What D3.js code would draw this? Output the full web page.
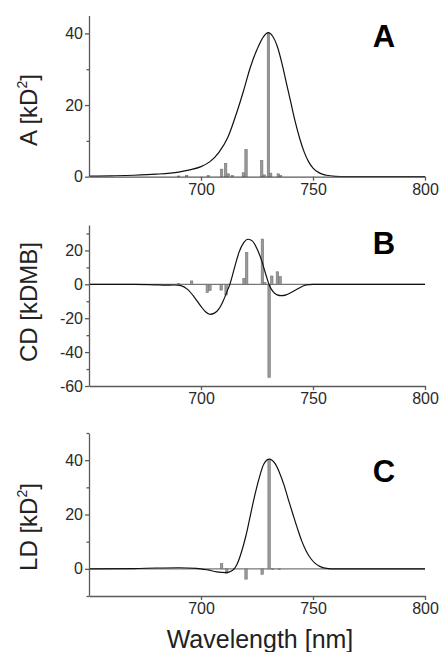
<!DOCTYPE html>
<html><head><meta charset="utf-8">
<script src="https://cdn.jsdelivr.net/npm/d3@7"></script>
<style>
html,body{margin:0;padding:0;background:#fff;}
svg{display:block;font-family:"Liberation Sans",Arial,sans-serif;}
</style></head>
<body><svg id="c" width="442" height="652"></svg>
<script>
// ---- data ----
const xTicks = [700, 750, 800];

const absWl  = [650,660,670,680,690,695,700,704,708,712,716,719,722,725,728,730,732,734,736,738,740,742,744,746,748,750,753,756,760,765,800];
const absVal = [0.15,0.25,0.4,0.7,1.3,1.9,2.8,4.2,6.8,11,18,24,30.5,35.5,39.2,40.2,39.2,36.5,32,26.5,21,15.5,10.8,7,4.2,2.4,1.0,0.4,0.1,0,0];
const absStickWl  = [690,693.6,703.3,709.2,711,712.2,714,718.9,720.1,727.1,728.3,730.1,731.1,734.5,735.5];
const absStickVal = [0.2,0.3,0.3,2.1,3.7,0.8,0.3,1.1,7.6,4.5,0.5,40,1.0,0.8,0.3];

const cdWl  = [650,670,680,684,688,691,694,697,700,702,704,706,708,710,712,713,715,717,719,721,723,725,727,729,730.5,732,734,736,738,740,743,747,750,760,800];
const cdVal = [0,0,-0.3,-0.5,-0.4,-0.8,-3,-7.5,-13,-16.2,-17.7,-17,-14.5,-9.5,-3,0.5,10,19,24.5,26.6,25.5,21,14.3,5.5,-0.5,-4,-6.2,-6.7,-6.2,-5,-2.8,-0.3,0,0,0];
const cdStickWl  = [690,695.8,702.8,704,709,711.2,719.2,720.4,727.4,728.5,730.4,731.6,734.1,735.3];
const cdStickVal = [0.5,2,-4.9,-3.6,-3.4,-6.3,3.5,18.7,26.7,1,-54.9,4.9,7.4,4.5];

const ldWl  = [650,670,680,690,698,703,707,711,714,716,718,720,722,724,726,728,730.5,733,735,737,739,741,743,745,747,749,751,753,756,760,800];
const ldVal = [0,0.1,0.3,0.4,0.2,-0.4,-1.1,-1.4,-0.6,1.5,6,12,19.5,27,33.5,38.5,40.4,38.8,35.5,31,25.5,20.2,15,10.2,6.5,3.8,2,0.9,0.2,0,0];
const ldStickWl  = [709.2,711.5,720.1,727.3,730.4,732,735];
const ldStickVal = [1.9,-1.6,-3.8,-2,40.2,-0.3,-0.3];

const panels = [
  {letter:"A", label:["A [kD","2","]"], wl:absWl, val:absVal, sw:absStickWl, sv:absStickVal,
   domain:[0,45], range:[176.7,15.5], major:[0,20,40], minor:[10,30], zeroLine:false, labelY:110, letterY:47},
  {letter:"B", label:["CD [kDMB]"], wl:cdWl, val:cdVal, sw:cdStickWl, sv:cdStickVal,
   domain:[-60,35], range:[386,225], major:[-60,-40,-20,0,20], minor:[-50,-30,-10,10,30], zeroLine:true, labelY:302, letterY:254},
  {letter:"C", label:["LD [kD","2","]"], wl:ldWl, val:ldVal, sw:ldStickWl, sv:ldStickVal,
   domain:[-10,50], range:[596,433], major:[0,20,40], minor:[-10,10,30,50], zeroLine:true, labelY:527, letterY:482}
];

// ---- drawing ----
const svg = d3.select("#c");
svg.append("rect").attr("width",442).attr("height",652).attr("fill","#fff");
const x = d3.scaleLinear().domain([650,800]).range([89,425]);
const axisColor = "#5a5a5a";
const fmt = d => String(d);

panels.forEach(p => {
  const y = d3.scaleLinear().domain(p.domain).range(p.range);
  const g = svg.append("g");

  if (p.zeroLine) {
    g.append("line").attr("x1",x(650)).attr("x2",x(800)).attr("y1",y(0)).attr("y2",y(0))
      .attr("stroke","#777").attr("stroke-width",1.3);
  }

  g.selectAll("rect.stick").data(p.sw.map((w,i)=>({w, v:p.sv[i]}))).enter().append("rect")
    .attr("x", d => x(d.w) - 1.2)
    .attr("width", 2.4)
    .attr("y", d => Math.min(y(d.v), y(0)))
    .attr("height", d => Math.max(0.8, Math.abs(y(d.v) - y(0))))
    .attr("fill", "#9a9a9a").attr("stroke", "#707070").attr("stroke-width", 0.6);

  const line = d3.line().x(d => x(d[0])).y(d => y(d[1])).curve(d3.curveMonotoneX);
  g.append("path").datum(p.wl.map((w,i)=>[w,p.val[i]]))
    .attr("d", line).attr("fill","none").attr("stroke","#111").attr("stroke-width",1.2);

  const yAxis = d3.axisLeft(y).tickValues(p.major).tickSize(4).tickSizeOuter(0).tickPadding(2).tickFormat(fmt);
  const ya = g.append("g").attr("transform",`translate(${x(650)},0)`).call(yAxis);
  const yMinor = d3.axisLeft(y).tickValues(p.minor).tickSize(2.5).tickSizeOuter(0).tickFormat("");
  const ym = g.append("g").attr("transform",`translate(${x(650)},0)`).call(yMinor);
  ym.select(".domain").remove();

  const xAxis = d3.axisBottom(x).tickValues(xTicks).tickSize(4).tickSizeOuter(0).tickPadding(3).tickFormat(fmt);
  const xa = g.append("g").attr("transform",`translate(0,${y(p.domain[0])})`).call(xAxis);

  [ya, ym, xa].forEach(a => {
    a.selectAll("path,line").attr("stroke",axisColor).attr("stroke-width",1.3);
    a.selectAll("text").attr("fill","#2a2a2a").attr("font-size",16)
      .attr("font-family","Liberation Sans, Arial, sans-serif");
  });

  const t = g.append("text")
    .attr("transform",`translate(37,${p.labelY}) rotate(-90)`)
    .attr("text-anchor","middle").attr("font-size",24).attr("fill","#222");
  p.label.forEach((s,i) => {
    const ts = t.append("tspan").text(s);
    if (i===1) ts.attr("font-size",14).attr("dy",-10);
    if (i===2) ts.attr("dy",10);
  });

  g.append("text").attr("x",384).attr("y",p.letterY).attr("text-anchor","middle")
    .attr("font-size",31).attr("font-weight","bold").attr("fill","#000").text(p.letter);
});

svg.append("text").attr("x",260).attr("y",648).attr("text-anchor","middle")
  .attr("font-size",25).attr("fill","#222").text("Wavelength [nm]");
</script>
</body></html>
